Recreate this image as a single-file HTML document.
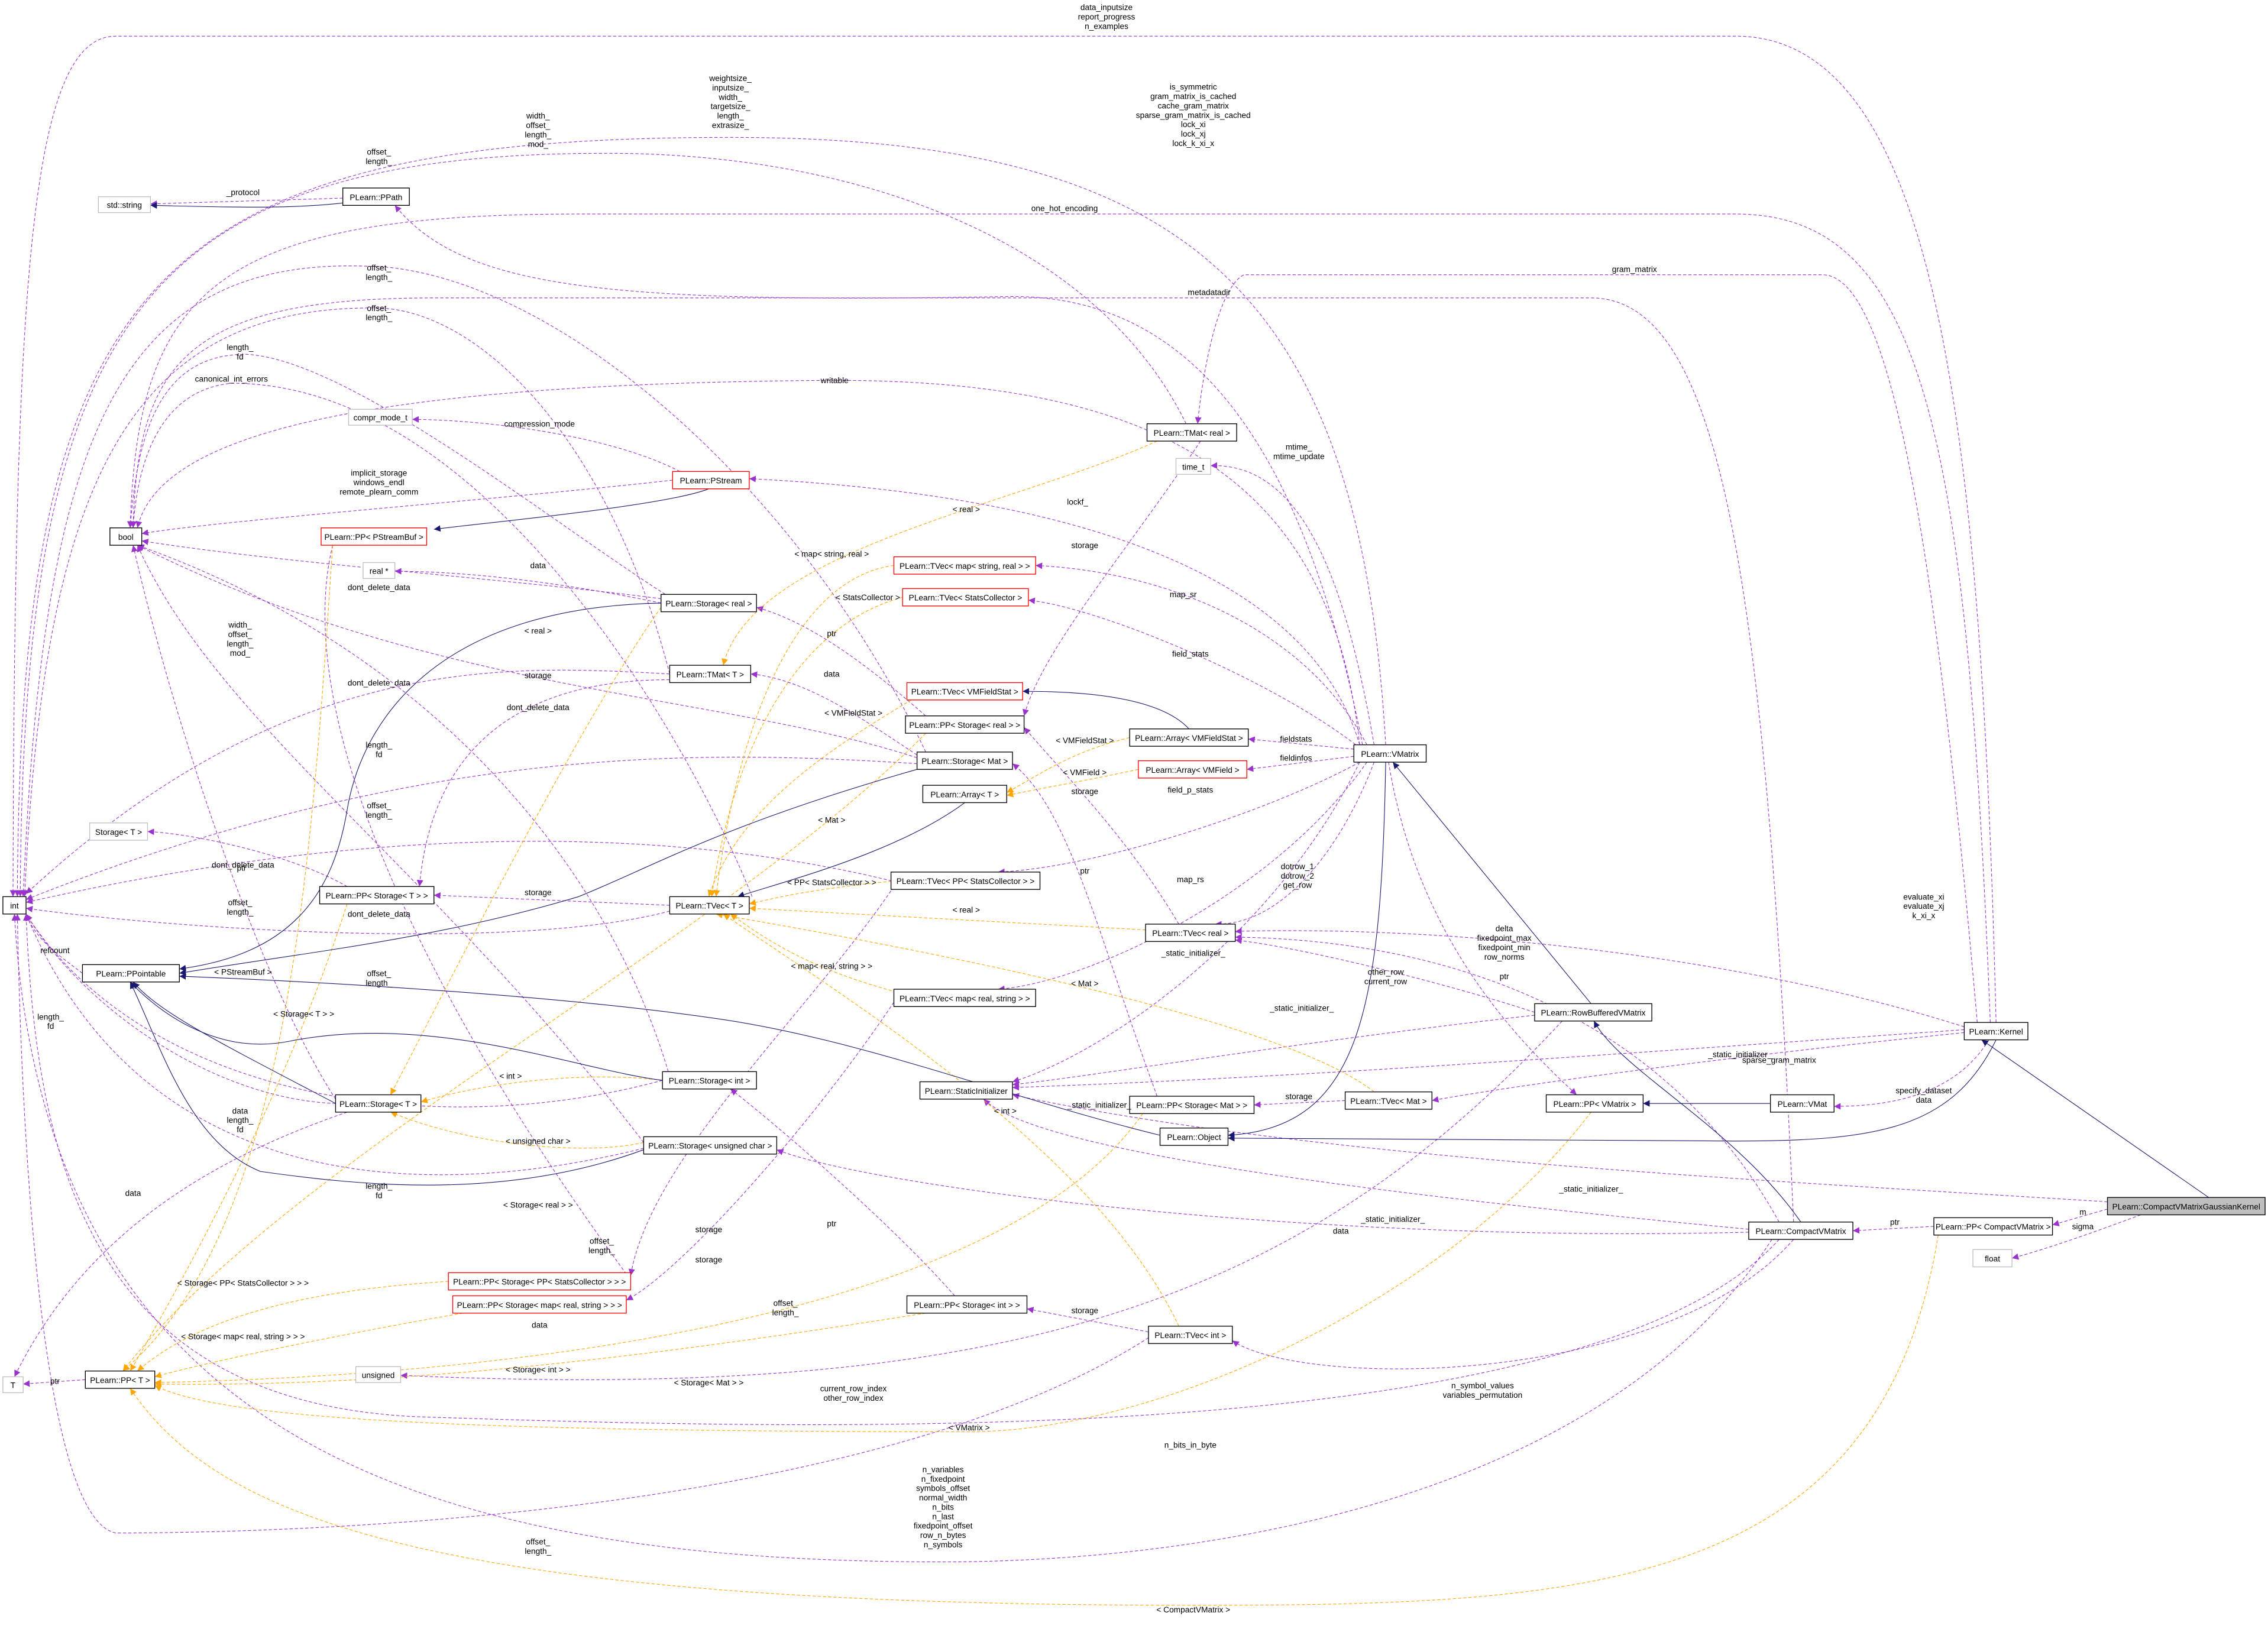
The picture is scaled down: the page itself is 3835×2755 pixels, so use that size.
<!DOCTYPE html>
<html><head><meta charset="utf-8"><style>
html,body{margin:0;padding:0;background:#fff}
svg{display:block}
text{font-family:"Liberation Sans",sans-serif;font-size:5.6px;fill:#000}
.n rect{fill:#fff;stroke:#000;stroke-width:0.55}
.r rect{stroke:#f00}
.g rect{stroke:#bfbfbf}
.p{fill:none;stroke:#9a32cd;stroke-width:0.45;stroke-dasharray:2.2,1.4}
.o{fill:none;stroke:#ffa500;stroke-width:0.45;stroke-dasharray:2.2,1.4}
.b{fill:none;stroke:#191970;stroke-width:0.45}
</style></head><body>
<svg width="3835" height="2755" viewBox="0 0 1568 1126.4" preserveAspectRatio="none" xmlns="http://www.w3.org/2000/svg">
<defs>
<marker id="mp" viewBox="0 0 10 10" refX="10" refY="5" markerWidth="4.5" markerHeight="4.5" markerUnits="userSpaceOnUse" orient="auto"><path d="M0,0L10,5L0,10z" fill="#9a32cd"/></marker>
<marker id="mo" viewBox="0 0 10 10" refX="10" refY="5" markerWidth="4.5" markerHeight="4.5" markerUnits="userSpaceOnUse" orient="auto"><path d="M0,0L10,5L0,10z" fill="#ffa500"/></marker>
<marker id="mb" viewBox="0 0 10 10" refX="10" refY="5" markerWidth="4.5" markerHeight="4.5" markerUnits="userSpaceOnUse" orient="auto"><path d="M0,0L10,5L0,10z" fill="#191970"/></marker>
</defs>
<g marker-end="url(#mp)">
<path class="p" d="M1380,707 C1370,300 1340,25 1200,25 L80,25 C20,25 10,200 9,620"/>
<path class="p" d="M958,515 C940,200 820,95 505,95 C100,95 14,200 12,620"/>
<path class="p" d="M1376,707 C1360,300 1330,148 1200,148 L400,148 C150,148 95,200 90,365"/>
<path class="p" d="M820,293 C760,170 600,106 420,106 C100,106 16,220 14,620"/>
<path class="p" d="M1240,845 C1220,400 1190,206 1100,206 L300,206 C130,206 95,250 92,365"/>
<path class="p" d="M1367,707 C1340,400 1310,190 1260,190 L860,190 C840,200 830,270 828,293"/>
<path class="p" d="M237,137 L104,141"/>
<path class="p" d="M942,515 C900,300 820,205 700,205 C420,210 320,200 273,142"/>
<path class="p" d="M940,515 C920,330 800,263 577,263 C250,265 110,300 95,365"/>
<path class="p" d="M640,520 C560,350 400,200 270,185 C80,170 30,300 16,620"/>
<path class="p" d="M463,466 C420,300 330,215 262,213 C80,210 30,350 17,620"/>
<path class="p" d="M470,326 C420,300 330,290 285,290"/>
<path class="p" d="M465,332 C350,345 150,360 98,369"/>
<path class="p" d="M460,411 C380,360 240,248 170,245 C110,245 95,300 90,365"/>
<path class="p" d="M520,620 C480,520 340,265 160,265 C110,270 95,320 92,365"/>
<path class="p" d="M940,515 C900,380 700,340 518,331"/>
<path class="p" d="M950,515 C930,400 900,320 837,322"/>
<path class="p" d="M945,515 C900,430 800,395 716,391"/>
<path class="p" d="M940,517 C880,470 760,420 711,415"/>
<path class="p" d="M936,518 L863,511"/>
<path class="p" d="M936,523 L862,532"/>
<path class="p" d="M940,527 C880,560 760,600 690,603"/>
<path class="p" d="M945,527 C880,620 750,680 690,684"/>
<path class="p" d="M950,527 C930,580 890,640 840,639"/>
<path class="p" d="M1061,700 C1000,680 900,655 854,650"/>
<path class="p" d="M1230,845 C1150,700 1000,650 854,648"/>
<path class="p" d="M1358,710 C1200,660 1000,640 854,644"/>
<path class="p" d="M1358,714 C1200,730 1050,750 990,761"/>
<path class="p" d="M1358,712 C1100,730 900,745 700,752"/>
<path class="p" d="M1061,702 C900,720 750,745 700,750"/>
<path class="p" d="M940,527 C880,650 760,730 700,748"/>
<path class="p" d="M1209,850 C1000,830 720,800 680,760"/>
<path class="p" d="M1457,831 C1200,815 900,800 700,757"/>
<path class="p" d="M1209,852 C900,860 600,820 537,795"/>
<path class="p" d="M1375,719 C1350,760 1300,765 1268,765"/>
<path class="p" d="M1457,836 L1419,847"/>
<path class="p" d="M1480,840 C1440,855 1410,865 1391,870"/>
<path class="p" d="M1337,848 L1281,851"/>
<path class="p" d="M960,527 C980,650 1050,720 1090,757"/>
<path class="p" d="M1240,857 C1150,960 900,960 852,927"/>
<path class="p" d="M1230,857 C1100,1000 600,990 300,980 C60,975 25,800 18,632"/>
<path class="p" d="M1225,857 C1100,1050 800,1080 652,1080 C300,1080 30,1000 10,632"/>
<path class="p" d="M1080,706 C900,900 700,970 277,951"/>
<path class="p" d="M794,921 L710,905"/>
<path class="p" d="M660,896 C620,850 540,780 505,753"/>
<path class="p" d="M794,925 C600,1050 200,1060 80,1060 C30,1050 15,800 12,632"/>
<path class="p" d="M930,761 L867,764"/>
<path class="p" d="M800,758 C760,650 740,560 700,528"/>
<path class="p" d="M815,639 C780,580 740,540 708,503"/>
<path class="p" d="M640,495 C600,460 560,430 523,420"/>
<path class="p" d="M830,305 C780,380 720,450 708,495"/>
<path class="p" d="M463,626 L300,619"/>
<path class="p" d="M463,630 C350,660 100,640 18,628"/>
<path class="p" d="M620,610 C500,580 300,560 18,624"/>
<path class="p" d="M240,613 C200,590 130,576 102,575"/>
<path class="p" d="M457,417 C400,405 330,395 273,395"/>
<path class="p" d="M457,414 C350,400 200,390 98,374"/>
<path class="p" d="M634,524 C500,480 300,480 95,377"/>
<path class="p" d="M634,528 C500,520 300,510 18,622"/>
<path class="p" d="M463,466 C350,460 200,450 18,618"/>
<path class="p" d="M463,470 C380,470 300,500 290,613"/>
<path class="p" d="M634,522 C600,500 560,470 519,466"/>
<path class="p" d="M445,790 C300,600 150,500 95,377"/>
<path class="p" d="M445,794 C300,830 100,830 18,632"/>
<path class="p" d="M458,747 C300,790 100,760 18,632"/>
<path class="p" d="M462,741 C420,600 300,450 95,377"/>
<path class="p" d="M232,763 C150,760 60,700 18,632"/>
<path class="p" d="M240,769 C150,800 60,850 10,952"/>
<path class="p" d="M232,760 C180,680 120,500 92,377"/>
<path class="p" d="M59,954 L16,957"/>
<path class="p" d="M57,673 C40,660 25,650 18,632"/>
<path class="p" d="M620,610 C560,700 450,800 436,882"/>
<path class="p" d="M620,690 C560,780 470,880 433,899"/>
<path class="p" d="M230,377 C200,500 300,700 436,885"/>
</g>
<g marker-end="url(#mo)">
<path class="o" d="M1340,854 C1300,1100 1100,1110 825,1110 C300,1110 150,1050 90,960"/>
<path class="o" d="M1100,769 C1000,900 800,990 670,990 C300,990 150,980 107,958"/>
<path class="o" d="M815,917 C760,800 600,700 500,632"/>
<path class="o" d="M950,755 C880,700 600,650 495,632"/>
<path class="o" d="M790,770 C700,900 400,950 107,956"/>
<path class="o" d="M792,643 L518,628"/>
<path class="o" d="M640,507 C500,650 200,800 85,948"/>
<path class="o" d="M800,305 C700,350 520,380 500,460"/>
<path class="o" d="M618,391 C550,400 510,500 495,620"/>
<path class="o" d="M624,413 C560,430 510,500 492,620"/>
<path class="o" d="M630,484 C570,520 510,560 490,620"/>
<path class="o" d="M781,510 C740,520 720,535 696,548"/>
<path class="o" d="M787,532 C750,540 720,545 696,550"/>
<path class="o" d="M620,609 C560,615 540,620 518,625"/>
<path class="o" d="M620,686 C560,670 530,650 505,632"/>
<path class="o" d="M240,625 C200,750 130,880 90,948"/>
<path class="o" d="M458,747 C400,740 330,750 291,762"/>
<path class="o" d="M445,790 C400,800 320,790 270,769"/>
<path class="o" d="M457,420 C400,500 300,700 270,757"/>
<path class="o" d="M230,377 C215,600 200,850 85,948"/>
<path class="o" d="M310,886 C250,890 150,900 95,948"/>
<path class="o" d="M320,908 C250,920 150,940 107,952"/>
<path class="o" d="M640,908 C500,930 300,960 107,957"/>
</g>
<g marker-end="url(#mb)">
<path class="b" d="M490,338 C460,350 330,362 300,366"/>
<path class="b" d="M240,140 C200,145 150,143 104,142"/>
<path class="b" d="M958,527 C955,700 940,780 849,785"/>
<path class="b" d="M1100,694 L963,527"/>
<path class="b" d="M1245,845 C1200,780 1120,740 1102,706"/>
<path class="b" d="M1380,719 C1350,780 1300,789 1200,789 L849,787"/>
<path class="b" d="M1527,828 L1370,719"/>
<path class="b" d="M1224,763 L1136,763"/>
<path class="b" d="M822,504 C800,480 740,478 707,478"/>
<path class="b" d="M667,555 C620,590 540,610 510,620"/>
<path class="b" d="M457,417 C300,420 250,500 240,560 C230,620 200,660 124,670"/>
<path class="b" d="M634,532 C500,570 450,600 400,620 C300,650 200,660 124,673"/>
<path class="b" d="M802,785 C700,760 600,720 500,705 C400,690 250,680 124,675"/>
<path class="b" d="M232,763 C150,720 110,700 92,679"/>
<path class="b" d="M458,747 C400,740 300,700 200,720 C150,730 110,700 90,679"/>
<path class="b" d="M445,795 C350,830 250,820 180,810 C130,790 110,720 90,679"/>
</g>
<g class="n"><rect x="2" y="620" width="16" height="12"/><text x="10" y="628.3" text-anchor="middle">int</text></g>
<g class="n"><rect x="76" y="365" width="22" height="12"/><text x="87" y="373.3" text-anchor="middle">bool</text></g>
<g class="n g"><rect x="2" y="952" width="14" height="11"/><text x="9" y="959.8" text-anchor="middle">T</text></g>
<g class="n g"><rect x="68" y="136" width="36" height="11"/><text x="86" y="143.8" text-anchor="middle">std::string</text></g>
<g class="n"><rect x="237" y="130" width="46" height="12"/><text x="260" y="138.3" text-anchor="middle">PLearn::PPath</text></g>
<g class="n g"><rect x="241" y="283" width="44" height="11"/><text x="263" y="290.8" text-anchor="middle">compr_mode_t</text></g>
<g class="n r"><rect x="465" y="326" width="53" height="12"/><text x="491.5" y="334.3" text-anchor="middle">PLearn::PStream</text></g>
<g class="n r"><rect x="222" y="365" width="73" height="12"/><text x="258.5" y="373.3" text-anchor="middle">PLearn::PP&lt; PStreamBuf &gt;</text></g>
<g class="n g"><rect x="251" y="389" width="22" height="11"/><text x="262" y="396.8" text-anchor="middle">real *</text></g>
<g class="n"><rect x="457" y="411" width="66" height="12"/><text x="490" y="419.3" text-anchor="middle">PLearn::Storage&lt; real &gt;</text></g>
<g class="n"><rect x="463" y="460" width="56" height="12"/><text x="491" y="468.3" text-anchor="middle">PLearn::TMat&lt; T &gt;</text></g>
<g class="n g"><rect x="62" y="569" width="40" height="12"/><text x="82" y="577.3" text-anchor="middle">Storage&lt; T &gt;</text></g>
<g class="n"><rect x="221" y="613" width="79" height="12"/><text x="260.5" y="621.3" text-anchor="middle">PLearn::PP&lt; Storage&lt; T &gt; &gt;</text></g>
<g class="n"><rect x="57" y="667" width="67" height="12"/><text x="90.5" y="675.3" text-anchor="middle">PLearn::PPointable</text></g>
<g class="n"><rect x="463" y="620" width="55" height="12"/><text x="490.5" y="628.3" text-anchor="middle">PLearn::TVec&lt; T &gt;</text></g>
<g class="n"><rect x="458" y="741" width="65" height="12"/><text x="490.5" y="749.3" text-anchor="middle">PLearn::Storage&lt; int &gt;</text></g>
<g class="n"><rect x="232" y="757" width="59" height="12"/><text x="261.5" y="765.3" text-anchor="middle">PLearn::Storage&lt; T &gt;</text></g>
<g class="n"><rect x="445" y="786" width="92" height="12"/><text x="491" y="794.3" text-anchor="middle">PLearn::Storage&lt; unsigned char &gt;</text></g>
<g class="n r"><rect x="310" y="880" width="126" height="12"/><text x="373" y="888.3" text-anchor="middle">PLearn::PP&lt; Storage&lt; PP&lt; StatsCollector &gt; &gt; &gt;</text></g>
<g class="n r"><rect x="313" y="896" width="120" height="12"/><text x="373" y="904.3" text-anchor="middle">PLearn::PP&lt; Storage&lt; map&lt; real, string &gt; &gt; &gt;</text></g>
<g class="n g"><rect x="246" y="945" width="31" height="11"/><text x="261.5" y="952.8" text-anchor="middle">unsigned</text></g>
<g class="n"><rect x="59" y="948" width="48" height="12"/><text x="83" y="956.3" text-anchor="middle">PLearn::PP&lt; T &gt;</text></g>
<g class="n"><rect x="793" y="293" width="62" height="12"/><text x="824" y="301.3" text-anchor="middle">PLearn::TMat&lt; real &gt;</text></g>
<g class="n g"><rect x="813" y="317" width="24" height="11"/><text x="825" y="324.8" text-anchor="middle">time_t</text></g>
<g class="n r"><rect x="618" y="385" width="98" height="12"/><text x="667" y="393.3" text-anchor="middle">PLearn::TVec&lt; map&lt; string, real &gt; &gt;</text></g>
<g class="n r"><rect x="624" y="407" width="87" height="12"/><text x="667.5" y="415.3" text-anchor="middle">PLearn::TVec&lt; StatsCollector &gt;</text></g>
<g class="n r"><rect x="627" y="472" width="80" height="12"/><text x="667" y="480.3" text-anchor="middle">PLearn::TVec&lt; VMFieldStat &gt;</text></g>
<g class="n"><rect x="626" y="495" width="82" height="12"/><text x="667" y="503.3" text-anchor="middle">PLearn::PP&lt; Storage&lt; real &gt; &gt;</text></g>
<g class="n"><rect x="634" y="520" width="66" height="12"/><text x="667" y="528.3" text-anchor="middle">PLearn::Storage&lt; Mat &gt;</text></g>
<g class="n"><rect x="638" y="543" width="58" height="12"/><text x="667" y="551.3" text-anchor="middle">PLearn::Array&lt; T &gt;</text></g>
<g class="n"><rect x="616" y="603" width="103" height="12"/><text x="667.5" y="611.3" text-anchor="middle">PLearn::TVec&lt; PP&lt; StatsCollector &gt; &gt;</text></g>
<g class="n"><rect x="618" y="684" width="98" height="12"/><text x="667" y="692.3" text-anchor="middle">PLearn::TVec&lt; map&lt; real, string &gt; &gt;</text></g>
<g class="n"><rect x="636" y="748" width="64" height="12"/><text x="668" y="756.3" text-anchor="middle">PLearn::StaticInitializer</text></g>
<g class="n"><rect x="781" y="758" width="86" height="12"/><text x="824" y="766.3" text-anchor="middle">PLearn::PP&lt; Storage&lt; Mat &gt; &gt;</text></g>
<g class="n"><rect x="802" y="780" width="47" height="12"/><text x="825.5" y="788.3" text-anchor="middle">PLearn::Object</text></g>
<g class="n"><rect x="792" y="639" width="62" height="12"/><text x="823" y="647.3" text-anchor="middle">PLearn::TVec&lt; real &gt;</text></g>
<g class="n"><rect x="930" y="755" width="60" height="12"/><text x="960" y="763.3" text-anchor="middle">PLearn::TVec&lt; Mat &gt;</text></g>
<g class="n"><rect x="781" y="504" width="82" height="12"/><text x="822" y="512.3" text-anchor="middle">PLearn::Array&lt; VMFieldStat &gt;</text></g>
<g class="n r"><rect x="787" y="526" width="75" height="12"/><text x="824.5" y="534.3" text-anchor="middle">PLearn::Array&lt; VMField &gt;</text></g>
<g class="n"><rect x="936" y="515" width="50" height="12"/><text x="961" y="523.3" text-anchor="middle">PLearn::VMatrix</text></g>
<g class="n"><rect x="1061" y="694" width="81" height="12"/><text x="1101.5" y="702.3" text-anchor="middle">PLearn::RowBufferedVMatrix</text></g>
<g class="n"><rect x="1069" y="757" width="67" height="12"/><text x="1102.5" y="765.3" text-anchor="middle">PLearn::PP&lt; VMatrix &gt;</text></g>
<g class="n"><rect x="1224" y="757" width="44" height="12"/><text x="1246" y="765.3" text-anchor="middle">PLearn::VMat</text></g>
<g class="n"><rect x="1358" y="707" width="44" height="12"/><text x="1380" y="715.3" text-anchor="middle">PLearn::Kernel</text></g>
<g class="n"><rect x="1209" y="845" width="72" height="12"/><text x="1245" y="853.3" text-anchor="middle">PLearn::CompactVMatrix</text></g>
<g class="n"><rect x="1337" y="842" width="82" height="12"/><text x="1378" y="850.3" text-anchor="middle">PLearn::PP&lt; CompactVMatrix &gt;</text></g>
<g class="n"><rect x="1457" y="828" width="109" height="12" style="fill:#bfbfbf"/><text x="1511.5" y="836.3" text-anchor="middle">PLearn::CompactVMatrixGaussianKernel</text></g>
<g class="n g"><rect x="1364" y="864" width="27" height="12"/><text x="1377.5" y="872.3" text-anchor="middle">float</text></g>
<g class="n"><rect x="627" y="896" width="83" height="12"/><text x="668.5" y="904.3" text-anchor="middle">PLearn::PP&lt; Storage&lt; int &gt; &gt;</text></g>
<g class="n"><rect x="794" y="917" width="58" height="12"/><text x="823" y="925.3" text-anchor="middle">PLearn::TVec&lt; int &gt;</text></g>
<g text-anchor="middle">
<text x="765" y="7">data_inputsize</text><text x="765" y="13.5">report_progress</text><text x="765" y="20">n_examples</text>
<text x="505" y="56">weightsize_</text><text x="505" y="62.5">inputsize_</text><text x="505" y="69">width_</text><text x="505" y="75.5">targetsize_</text><text x="505" y="82">length_</text><text x="505" y="88.5">extrasize_</text>
<text x="825" y="62">is_symmetric</text><text x="825" y="68.5">gram_matrix_is_cached</text><text x="825" y="75">cache_gram_matrix</text><text x="825" y="81.5">sparse_gram_matrix_is_cached</text><text x="825" y="88">lock_xi</text><text x="825" y="94.5">lock_xj</text><text x="825" y="101">lock_k_xi_x</text>
<text x="372" y="82">width_</text><text x="372" y="88.5">offset_</text><text x="372" y="95">length_</text><text x="372" y="101.5">mod_</text>
<text x="262" y="107">offset_</text><text x="262" y="113.5">length_</text>
<text x="168" y="135">_protocol</text>
<text x="736" y="146">one_hot_encoding</text>
<text x="1130" y="188">gram_matrix</text>
<text x="262" y="187">offset_</text><text x="262" y="193.5">length_</text>
<text x="836" y="204">metadatadir</text>
<text x="262" y="215">offset_</text><text x="262" y="221.5">length_</text>
<text x="166" y="242">length_</text><text x="166" y="248.5">fd</text>
<text x="577" y="265">writable</text>
<text x="160" y="264">canonical_int_errors</text>
<text x="373" y="295">compression_mode</text>
<text x="898" y="311">mtime_</text><text x="898" y="317.5">mtime_update</text>
<text x="262" y="329">implicit_storage</text><text x="262" y="335.5">windows_endl</text><text x="262" y="342">remote_plearn_comm</text>
<text x="745" y="349">lockf_</text>
<text x="668" y="354">&lt; real &gt;</text>
<text x="750" y="379">storage</text>
<text x="575" y="385">&lt; map&lt; string, real &gt;</text>
<text x="372" y="393">data</text>
<text x="262" y="408">dont_delete_data</text>
<text x="818" y="413">map_sr</text>
<text x="600" y="415">&lt; StatsCollector &gt;</text>
<text x="166" y="434">width_</text><text x="166" y="440.5">offset_</text><text x="166" y="447">length_</text><text x="166" y="453.5">mod_</text>
<text x="372" y="438">&lt; real &gt;</text>
<text x="575" y="440">ptr</text>
<text x="823" y="454">field_stats</text>
<text x="575" y="468">data</text>
<text x="372" y="469">storage</text>
<text x="262" y="474">dont_delete_data</text>
<text x="372" y="491">dont_delete_data</text>
<text x="590" y="495">&lt; VMFieldStat &gt;</text>
<text x="750" y="514">&lt; VMFieldStat &gt;</text>
<text x="896" y="513">fieldstats</text><text x="896" y="526">fieldinfos</text>
<text x="262" y="517">length_</text><text x="262" y="523.5">fd</text>
<text x="750" y="536">&lt; VMField &gt;</text>
<text x="823" y="548">field_p_stats</text>
<text x="750" y="549">storage</text>
<text x="262" y="559">offset_</text><text x="262" y="565.5">length_</text>
<text x="575" y="569">&lt; Mat &gt;</text>
<text x="167" y="602">ptr</text>
<text x="168" y="600">dont_delete_data</text>
<text x="897" y="601">dotrow_1</text><text x="897" y="607.5">dotrow_2</text><text x="897" y="614">get_row</text>
<text x="750" y="604">ptr</text>
<text x="823" y="610">map_rs</text>
<text x="575" y="612">&lt; PP&lt; StatsCollector &gt; &gt;</text>
<text x="372" y="619">storage</text>
<text x="1330" y="622">evaluate_xi</text><text x="1330" y="628.5">evaluate_xj</text><text x="1330" y="635">k_xi_x</text>
<text x="668" y="631">&lt; real &gt;</text>
<text x="262" y="634">dont_delete_data</text>
<text x="1040" y="644">delta</text><text x="1040" y="650.5">fixedpoint_max</text><text x="1040" y="657">fixedpoint_min</text><text x="1040" y="663.5">row_norms</text>
<text x="166" y="626">offset_</text><text x="166" y="632.5">length_</text>
<text x="38" y="659">refcount</text>
<text x="825" y="661">_static_initializer_</text>
<text x="1040" y="677">ptr</text>
<text x="262" y="675">offset_</text><text x="262" y="681.5">length_</text>
<text x="575" y="670">&lt; map&lt; real, string &gt; &gt;</text>
<text x="168" y="674">&lt; PStreamBuf &gt;</text>
<text x="958" y="674">other_row</text><text x="958" y="680.5">current_row</text>
<text x="750" y="682">&lt; Mat &gt;</text>
<text x="900" y="699">_static_initializer_</text>
<text x="210" y="703">&lt; Storage&lt; T &gt; &gt;</text>
<text x="35" y="705">length_</text><text x="35" y="711.5">fd</text>
<text x="1203" y="731">_static_initializer_</text>
<text x="1230" y="735">sparse_gram_matrix</text>
<text x="353" y="746">&lt; int &gt;</text>
<text x="1330" y="756">specify_dataset</text><text x="1330" y="762.5">data</text>
<text x="898" y="760">storage</text>
<text x="760" y="766">_static_initializer_</text>
<text x="695" y="770">&lt; int &gt;</text>
<text x="166" y="770">data</text><text x="166" y="776.5">length_</text><text x="166" y="783">fd</text>
<text x="372" y="791">&lt; unsigned char &gt;</text>
<text x="1100" y="824">_static_initializer_</text>
<text x="262" y="822">length_</text><text x="262" y="828.5">fd</text>
<text x="92" y="827">data</text>
<text x="372" y="835">&lt; Storage&lt; real &gt; &gt;</text>
<text x="1440" y="840">m</text><text x="1440" y="850">sigma</text>
<text x="1310" y="847">ptr</text>
<text x="963" y="845">_static_initializer_</text>
<text x="927" y="853">data</text>
<text x="490" y="852">storage</text>
<text x="575" y="848">ptr</text>
<text x="416" y="860">offset_</text><text x="416" y="866.5">length_</text>
<text x="490" y="873">storage</text>
<text x="168" y="889">&lt; Storage&lt; PP&lt; StatsCollector &gt; &gt; &gt;</text>
<text x="543" y="903">offset_</text><text x="543" y="909.5">length_</text>
<text x="750" y="908">storage</text>
<text x="373" y="918">data</text>
<text x="168" y="926">&lt; Storage&lt; map&lt; real, string &gt; &gt; &gt;</text>
<text x="372" y="949">&lt; Storage&lt; int &gt; &gt;</text>
<text x="490" y="958">&lt; Storage&lt; Mat &gt; &gt;</text>
<text x="38" y="957">ptr</text>
<text x="1025" y="960">n_symbol_values</text><text x="1025" y="966.5">variables_permutation</text>
<text x="590" y="962">current_row_index</text><text x="590" y="968.5">other_row_index</text>
<text x="670" y="989">&lt; VMatrix &gt;</text>
<text x="823" y="1001">n_bits_in_byte</text>
<text x="652" y="1018">n_variables</text><text x="652" y="1024.5">n_fixedpoint</text><text x="652" y="1031">symbols_offset</text><text x="652" y="1037.5">normal_width</text><text x="652" y="1044">n_bits</text><text x="652" y="1050.5">n_last</text><text x="652" y="1057">fixedpoint_offset</text><text x="652" y="1063.5">row_n_bytes</text><text x="652" y="1070">n_symbols</text>
<text x="372" y="1068">offset_</text><text x="372" y="1074.5">length_</text>
<text x="825" y="1115">&lt; CompactVMatrix &gt;</text>
</g>
</svg>
</body></html>
